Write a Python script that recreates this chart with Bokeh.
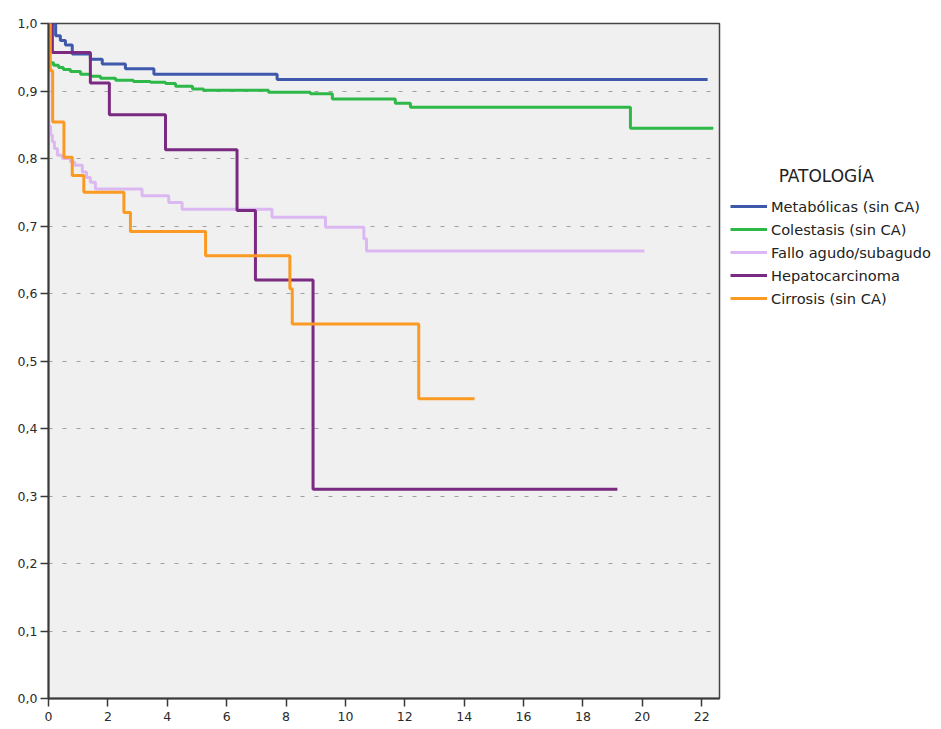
from bokeh.plotting import figure
from bokeh.models import FixedTicker, Range1d, Legend, LegendItem
from bokeh.embed import file_html
from bokeh.resources import INLINE

# ---- data ----
series_names = ["Metabólicas (sin CA)", "Colestasis (sin CA)", "Fallo agudo/subagudo",
                "Hepatocarcinoma", "Cirrosis (sin CA)"]
series_colors = ["#3e58ac", "#2eb848", "#dcb8f2", "#7a2a80", "#fb9a22"]

met_t = [0, 0.24, 0.40, 0.57, 0.80, 1.41, 1.81, 2.59, 3.55, 7.70, 22.2]
met_s = [1.0, 0.982, 0.975, 0.968, 0.955, 0.947, 0.940, 0.933, 0.925, 0.917, 0.917]

col_t = [0, 0.02, 0.17, 0.34, 0.5, 0.74, 1.08, 1.41, 1.75, 2.26, 2.86, 3.43, 3.94, 4.28,
         4.85, 5.22, 7.41, 8.82, 9.56, 11.68, 12.19, 19.6, 22.39]
col_s = [1.0, 0.942, 0.938, 0.935, 0.932, 0.929, 0.925, 0.922, 0.919, 0.916, 0.914, 0.913,
         0.911, 0.907, 0.903, 0.901, 0.898, 0.896, 0.888, 0.882, 0.876, 0.845, 0.845]

fal_t = [0, 0.01, 0.07, 0.13, 0.2, 0.3, 0.47, 0.74, 0.88, 1.14, 1.28, 1.41, 1.58, 3.15,
         4.05, 4.5, 7.53, 9.33, 10.62, 10.71, 20.07]
fal_s = [1.0, 0.848, 0.835, 0.825, 0.815, 0.805, 0.800, 0.795, 0.790, 0.780, 0.772, 0.765,
         0.755, 0.745, 0.735, 0.725, 0.713, 0.698, 0.681, 0.663, 0.663]

hep_t = [0, 0.13, 1.41, 2.05, 3.94, 6.35, 6.97, 8.91, 19.16]
hep_s = [1.0, 0.957, 0.912, 0.865, 0.813, 0.723, 0.620, 0.310, 0.310]

cir_t = [0, 0.06, 0.14, 0.52, 0.80, 1.19, 2.54, 2.76, 5.29, 8.13, 8.21, 12.47, 14.35]
cir_s = [1.0, 0.93, 0.854, 0.802, 0.775, 0.750, 0.720, 0.692, 0.656, 0.607, 0.555, 0.444, 0.444]

x_ticks = [0, 2, 4, 6, 8, 10, 12, 14, 16, 18, 20, 22]
y_ticks = [0.0, 0.1, 0.2, 0.3, 0.4, 0.5, 0.6, 0.7, 0.8, 0.9, 1.0]
y_tick_labels = ["0,0", "0,1", "0,2", "0,3", "0,4", "0,5", "0,6", "0,7", "0,8", "0,9", "1,0"]
grid_ticks = [0.1, 0.2, 0.3, 0.4, 0.5, 0.6, 0.7, 0.8, 0.9]
legend_title = "PATOLOGÍA"

FONT = "DejaVu Sans"

p = figure(frame_width=671, frame_height=675,
           x_range=Range1d(0, 22.6), y_range=Range1d(0, 1.0),
           output_backend="svg", toolbar_location=None,
           min_border_left=48, min_border_top=23, min_border_bottom=30, min_border_right=10,
           background_fill_color="#f0f0f0", border_fill_color="white",
           outline_line_color="#444444", outline_line_width=1.5)

p.xaxis.ticker = FixedTicker(ticks=x_ticks)
p.yaxis.ticker = FixedTicker(ticks=y_ticks)
p.yaxis.major_label_overrides = dict(zip(y_ticks, y_tick_labels))
p.axis.axis_line_width = 2
p.axis.axis_line_color = "#3a3a3a"
p.axis.major_tick_line_width = 1.5
p.axis.major_tick_line_color = "#3a3a3a"
p.axis.major_tick_out = 8
p.axis.major_tick_in = 0
p.axis.minor_tick_line_color = None
p.axis.major_label_text_font = FONT
p.axis.major_label_text_font_size = "12.5px"
p.axis.major_label_text_color = "#2a2a2a"
p.yaxis.major_label_standoff = 3
p.xaxis.major_label_standoff = 5

p.xgrid.grid_line_color = None
p.ygrid.ticker = FixedTicker(ticks=grid_ticks)
p.ygrid.grid_line_color = "#a0a0a0"
p.ygrid.grid_line_width = 1
p.ygrid.grid_line_dash = "4 10"

all_t = [met_t, col_t, fal_t, hep_t, cir_t]
all_s = [met_s, col_s, fal_s, hep_s, cir_s]
items = []
for name, color, t, s in zip(series_names, series_colors, all_t, all_s):
    r = p.step(t, s, mode="after", line_color=color, line_width=3)
    items.append(LegendItem(label=name, renderers=[r]))

legend = Legend(items=items, title="\u00a0" * 9 + legend_title, location=(11, 389),
                border_line_color=None, background_fill_alpha=0,
                padding=0, margin=0, spacing=1,
                label_height=22, glyph_height=22, glyph_width=37, label_standoff=4,
                label_text_font=FONT, label_text_font_size="14.6px", label_text_color="#222222",
                title_text_font=FONT, title_text_font_size="17px",
                title_text_font_style="normal", title_text_color="#222222",
                title_standoff=9)
p.add_layout(legend, "right")

open("out.html", "w").write(file_html(p, INLINE))
